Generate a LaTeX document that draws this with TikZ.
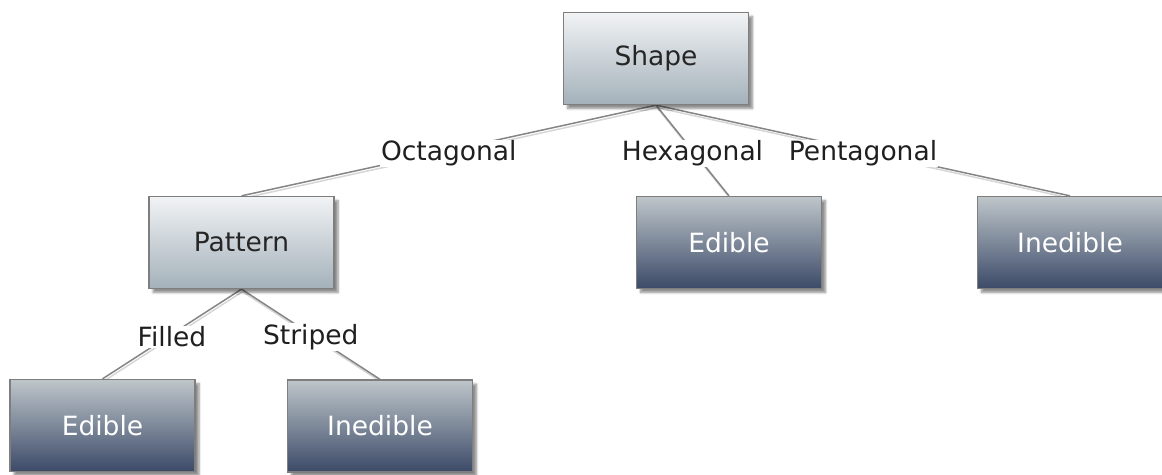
\documentclass[tikz,border=0pt]{standalone}
\usepackage{fontspec}
\setmainfont{DejaVu Sans}
\usetikzlibrary{shadows.blur,backgrounds}
\definecolor{lighttop}{HTML}{F1F3F5}
\definecolor{lightbot}{HTML}{A4B1BA}
\definecolor{darktop}{HTML}{BEC6CA}
\definecolor{darkbot}{HTML}{3C4A68}
\definecolor{edgegray}{HTML}{858585}
\definecolor{rimgray}{HTML}{7E7E7E}
\tikzset{
  box/.style={draw=rimgray, line width=1.3pt, minimum width=185pt, minimum height=92pt,
    inner sep=0pt, font=\fontsize{26.5}{30}\selectfont,
    blur shadow={shadow xshift=4pt, shadow yshift=-4pt, shadow opacity=45, shadow blur steps=6}},
  attrbox/.style={box, top color=lighttop, bottom color=lightbot, text=black!85},
  leafbox/.style={box, top color=darktop, bottom color=darkbot, text=white},
  branch/.style={draw=edgegray, line width=1.5pt},
  branchshade/.style={draw=black!16, line width=1.5pt},
  lbl/.style={fill=white, inner sep=1pt, yshift=-3pt, text=black!88, font=\fontsize{26.5}{30}\selectfont},
}
\begin{document}
\begin{tikzpicture}[x=1pt, y=-1pt]
\useasboundingbox (0,0) rectangle (1162,474);
% decision and outcome boxes
\node[attrbox] (shape) at (656,58.5) {Shape};
\node[attrbox] (pattern) at (241.5,242.5) {Pattern};
\node[leafbox] (edibleA) at (729,242.5) {Edible};
\node[leafbox] (inedibleA) at (1070,242.5) {Inedible};
\node[leafbox] (edibleB) at (102.5,425.5) {Edible};
\node[leafbox] (inedibleB) at (380,426) {Inedible};
\begin{scope}[on background layer]
  % faint shade under each branch
  \foreach \a/\b in {shape/pattern, shape/edibleA, shape/inedibleA, pattern/edibleB, pattern/inedibleB}{
    \draw[branchshade] ([shift={(1pt,-2.5pt)}]\a.south) -- ([shift={(1pt,-2.5pt)}]\b.north);
  }
  % branches with their labels
  \draw[branch] (shape.south) -- node[lbl] {Octagonal} (pattern.north);
  \draw[branch] (shape.south) -- node[lbl] {Hexagonal} (edibleA.north);
  \draw[branch] (shape.south) -- node[lbl] {Pentagonal} (inedibleA.north);
  \draw[branch] (pattern.south) -- node[lbl] {Filled} (edibleB.north);
  \draw[branch] (pattern.south) -- node[lbl] {Striped} (inedibleB.north);
\end{scope}
\end{tikzpicture}
\end{document}
